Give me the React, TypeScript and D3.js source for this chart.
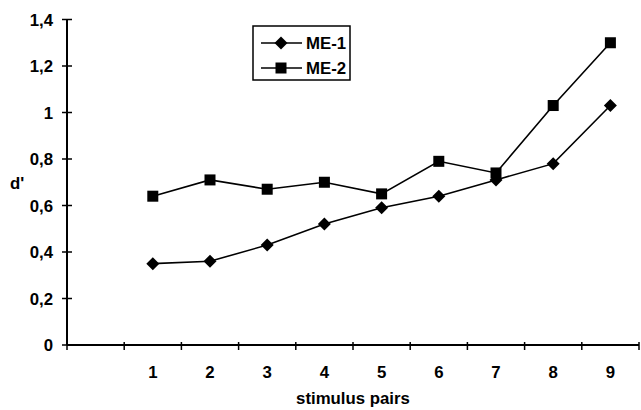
import React from "react";
import * as d3 from "d3";

const categories = ["", "1", "2", "3", "4", "5", "6", "7", "8", "9"];
const pairs = ["1", "2", "3", "4", "5", "6", "7", "8", "9"];
const me1 = [0.35, 0.36, 0.43, 0.52, 0.59, 0.64, 0.71, 0.78, 1.03];
const me2 = [0.64, 0.71, 0.67, 0.70, 0.65, 0.79, 0.74, 1.03, 1.30];
const yTicks = [0, 0.2, 0.4, 0.6, 0.8, 1, 1.2, 1.4];
const seriesNames = ["ME-1", "ME-2"];

const W = 641;
const H = 410;
const left = 67;
const right = 639;
const top = 19.5;
const bottom = 345;
const font = "'Liberation Sans', Arial, sans-serif";
const fs = 16.8;

const x = d3.scaleBand().domain(categories).range([left, right]).paddingInner(0).paddingOuter(0);
const y = d3.scaleLinear().domain([0, 1.4]).range([bottom, top]);

const fmt = (v: number) => (Math.round(v * 10) / 10).toString().replace(".", ",");

const cx = (c: string) => (x(c) as number) + x.bandwidth() / 2;

function Diamond({ px, py }: { px: number; py: number }) {
  const r = 6.5;
  return <path d={`M${px},${py - r}L${px + r},${py}L${px},${py + r}L${px - r},${py}Z`} fill="#000" />;
}
function Square({ px, py }: { px: number; py: number }) {
  const s = 11;
  return <rect x={px - s / 2} y={py - s / 2} width={s} height={s} fill="#000" />;
}

const textStyle = { fontFamily: font, fontWeight: "bold" as const, fontSize: fs };

export default function App() {
  const line = d3
    .line<number>()
    .x((_, i) => cx(pairs[i]))
    .y((d) => y(d));
  const bounds = x.domain().map((c) => x(c) as number).concat([right]);
  return (
    <svg width={W} height={H} style={{ position: "absolute", left: 0, top: 0, background: "#fff" }}>
      <rect width={W} height={H} fill="#fff" />
      {/* y axis */}
      <line x1={left} x2={left} y1={top} y2={bottom} stroke="#000" strokeWidth={2} />
      {yTicks.map((t) => (
        <g key={t}>
          <line x1={left - 5} x2={left + 5} y1={y(t)} y2={y(t)} stroke="#000" strokeWidth={1.5} />
          <text x={53} y={y(t)} dy="0.36em" textAnchor="end" style={textStyle}>
            {fmt(t)}
          </text>
        </g>
      ))}
      {/* x axis */}
      <line x1={left} x2={right} y1={bottom} y2={bottom} stroke="#000" strokeWidth={2} />
      {bounds.map((b, i) => (
        <line key={i} x1={b} x2={b} y1={bottom - 3} y2={bottom + 5} stroke="#000" strokeWidth={1.5} />
      ))}
      {pairs.map((c) => (
        <text key={c} x={cx(c)} y={378} textAnchor="middle" style={textStyle}>
          {c}
        </text>
      ))}
      <text x={(left + right) / 2} y={404} textAnchor="middle" style={textStyle}>
        stimulus pairs
      </text>
      <text x={10} y={189} style={textStyle}>
        d'
      </text>
      {/* series */}
      <path d={line(me1) || ""} fill="none" stroke="#000" strokeWidth={1.6} />
      <path d={line(me2) || ""} fill="none" stroke="#000" strokeWidth={1.6} />
      {me1.map((v, i) => (
        <Diamond key={"a" + i} px={cx(pairs[i])} py={y(v)} />
      ))}
      {me2.map((v, i) => (
        <Square key={"b" + i} px={cx(pairs[i])} py={y(v)} />
      ))}
      {/* legend */}
      <rect x={253} y={26} width={97} height={54} fill="#fff" stroke="#000" strokeWidth={1.5} />
      {seriesNames.map((n, i) => {
        const ly = 43 + i * 25;
        return (
          <g key={n}>
            <line x1={261} x2={302} y1={ly} y2={ly} stroke="#000" strokeWidth={1.5} />
            {i === 0 ? <Diamond px={281} py={ly} /> : <Square px={281} py={ly} />}
            <text x={306} y={ly} dy="0.36em" style={textStyle}>
              {n}
            </text>
          </g>
        );
      })}
    </svg>
  );
}
